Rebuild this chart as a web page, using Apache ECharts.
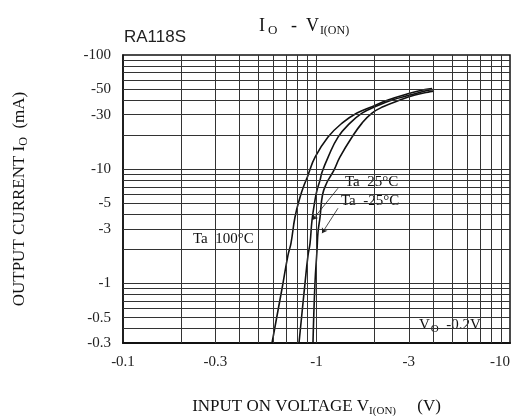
<!DOCTYPE html>
<html>
<head>
<meta charset="utf-8">
<script src="https://cdn.jsdelivr.net/npm/echarts@6/dist/echarts.min.js"></script>
<style>
html, body { margin: 0; padding: 0; background: #fff; }
#chart { width: 518px; height: 416px; }
</style>
</head>
<body>
<div id="chart"></div>
<script>
// magnitudes: axis labels carry the minus sign (V_I(ON) in V, I_O in mA)
var vin100 = [0.589, 0.671, 0.712, 0.738, 0.774, 0.822, 0.862, 0.893, 0.915, 0.982, 1.147, 1.355, 1.619, 1.936, 2.342, 2.936, 3.637, 3.954];
var io100  = [0.3, 1.0, 1.76, 2.24, 3.79, 5.68, 7.24, 8.34, 9.41, 12.7, 19.1, 25.3, 31.0, 35.2, 40.3, 45.5, 49.8, 50.8];

var vin25 = [0.812, 0.872, 0.904, 0.926, 0.948, 0.982, 1.006, 1.043, 1.068, 1.147, 1.292, 1.490, 1.719, 2.006, 2.456, 3.043, 3.725, 4.001];
var io25  = [0.3, 1.0, 1.76, 2.24, 3.57, 5.34, 6.54, 8.01, 9.41, 12.7, 19.1, 25.3, 31.0, 35.2, 40.3, 44.6, 48.8, 49.8];

var vinM25 = [0.959, 0.982, 1.006, 1.018, 1.043, 1.075, 1.130, 1.190, 1.231, 1.323, 1.526, 1.719, 1.936, 2.207, 2.701, 3.228, 3.861, 4.049];
var ioM25  = [0.3, 1.0, 1.95, 2.80, 3.79, 6.0, 7.6, 8.86, 9.8, 12.8, 19.1, 25.3, 31.0, 35.2, 40.3, 44.6, 47.8, 48.3];

var xTicks = [0.1, 0.3, 1, 3, 10];
var yTicks = [0.3, 0.5, 1, 3, 5, 10, 30, 50, 100];
var xGrid = [0.2, 0.3, 0.4, 0.5, 0.6, 0.7, 0.8, 0.9, 1, 2, 3, 4, 5, 6, 7, 8, 9];
var yGrid = [0.4, 0.5, 0.6, 0.7, 0.8, 0.9, 1, 2, 3, 4, 5, 6, 7, 8, 9, 10, 20, 30, 40, 50, 60, 70, 80, 90];

// leader lines from the labels to the curves: [label end, curve end]
var lead25 = [[1.292, 6.81], [0.955, 3.6]];
var leadM25 = [[1.292, 4.55], [1.068, 2.75]];

var serif = 'Liberation Serif';

function pairs(xs, ys) {
    return xs.map(function (x, i) { return [x, ys[i]]; });
}
function neg(v) {
    return '-' + parseFloat(Number(v).toPrecision(3));
}
function curve(name, xs, ys) {
    return {
        name: name,
        type: 'line',
        z: 3,
        data: pairs(xs, ys),
        showSymbol: false,
        smooth: 0.45,
        lineStyle: {color: '#111', width: 1.6},
        animation: false
    };
}
function leader(pts) {
    return [{coord: pts[0]}, {coord: pts[1]}];
}

var chart = echarts.init(document.getElementById('chart'));

var series = [
    {
        type: 'line',
        data: [],
        z: 1,
        silent: true,
        markLine: {
            silent: true,
            symbol: 'none',
            animation: false,
            label: {show: false},
            lineStyle: {color: '#333', width: 1, type: 'solid'},
            data: xGrid.map(function (v) { return {xAxis: v}; })
                .concat(yGrid.map(function (v) { return {yAxis: v}; }))
        }
    },
    curve('Ta 100', vin100, io100),
    curve('Ta 25', vin25, io25),
    curve('Ta -25', vinM25, ioM25)
];
series[2].markLine = {
    silent: true,
    animation: false,
    symbol: ['none', 'arrow'],
    symbolSize: 5,
    label: {show: false},
    lineStyle: {color: '#222', width: 0.8, type: 'solid'},
    data: [leader(lead25), leader(leadM25)]
};

var option = {
    backgroundColor: '#fff',
    animation: false,
    title: {
        text: '{a|I}{b|O}{a|   -  V}{c|I(ON)}',
        left: 254,
        top: 10,
        textStyle: {
            fontWeight: 'normal',
            rich: {
                a: {fontFamily: serif, fontSize: 18, fontWeight: 'normal', color: '#111', lineHeight: 22},
                b: {fontFamily: serif, fontSize: 13, fontWeight: 'normal', color: '#111', lineHeight: 22, padding: [10, 0, 0, 3]},
                c: {fontFamily: serif, fontSize: 12, fontWeight: 'normal', color: '#111', lineHeight: 22, padding: [10, 0, 0, 1]}
            }
        }
    },
    grid: {
        left: 123, right: 8, top: 55, bottom: 73,
        show: true, borderColor: '#111', borderWidth: 1.5,
        containLabel: false,
        outerBoundsMode: 'none'
    },
    xAxis: {
        type: 'log',
        logBase: 10,
        min: 0.1,
        max: 10,
        name: 'INPUT ON VOLTAGE V{s|I(ON)}     (V)',
        nameLocation: 'middle',
        nameGap: 54,
        nameTextStyle: {
            fontFamily: serif, fontSize: 17, color: '#111',
            rich: {s: {fontFamily: serif, fontSize: 11, color: '#111', padding: [9, 0, 0, 0]}}
        },
        axisLine: {show: true, lineStyle: {color: '#111', width: 2}},
        axisTick: {show: false},
        splitLine: {show: false},
        minorSplitLine: {show: false},
        axisLabel: {
            customValues: xTicks,
            formatter: neg,
            margin: 12,
            alignMaxLabel: 'right',
            fontFamily: serif,
            fontSize: 15,
            color: '#222'
        }
    },
    yAxis: {
        type: 'log',
        logBase: 10,
        min: 0.3,
        max: 100,
        name: 'OUTPUT CURRENT I{s|O}  (mA)',
        nameLocation: 'middle',
        nameRotate: 90,
        nameGap: 93,
        nameTextStyle: {
            fontFamily: serif, fontSize: 17, color: '#111',
            rich: {s: {fontFamily: serif, fontSize: 12, color: '#111', padding: [9, 0, 0, 0]}}
        },
        axisLine: {show: true, lineStyle: {color: '#111', width: 1.5}},
        axisTick: {show: false},
        splitLine: {show: false},
        axisLabel: {
            customValues: yTicks,
            formatter: neg,
            margin: 12,
            fontFamily: serif,
            fontSize: 15,
            color: '#222'
        }
    },
    graphic: [
        {type: 'text', left: 124, top: 29, z: 5,
            style: {text: 'RA118S', font: '17px "Liberation Sans"', fill: '#222'}},
        {type: 'rect', z: 2, shape: {x: 337, y: 173, width: 96, height: 40}, style: {fill: '#fff'}},
        {type: 'text', z: 2, x: 345, y: 175, style: {text: 'Ta  25°C', font: '15px "Liberation Serif"', fill: '#111'}},
        {type: 'text', z: 2, x: 341, y: 194, style: {text: 'Ta  -25°C', font: '15px "Liberation Serif"', fill: '#111'}},
        {type: 'rect', z: 2, shape: {x: 182, y: 228, width: 85, height: 24}, style: {fill: '#fff'}},
        {type: 'text', z: 2, x: 193, y: 232, style: {text: 'Ta  100°C', font: '15px "Liberation Serif"', fill: '#111'}},
        {type: 'rect', z: 2, shape: {x: 415, y: 309, width: 93, height: 32}, style: {fill: '#fff'}},
        {type: 'text', z: 2, x: 419, y: 316, style: {
            text: '{v|V}{s|O}{v|  -0.2V}',
            rich: {
                v: {fontFamily: serif, fontSize: 15, fill: '#111'},
                s: {fontFamily: serif, fontSize: 11, fill: '#111', padding: [8, 0, 0, 1]}
            }
        }}
    ],
    series: series
};

chart.setOption(option);
</script>
</body>
</html>
